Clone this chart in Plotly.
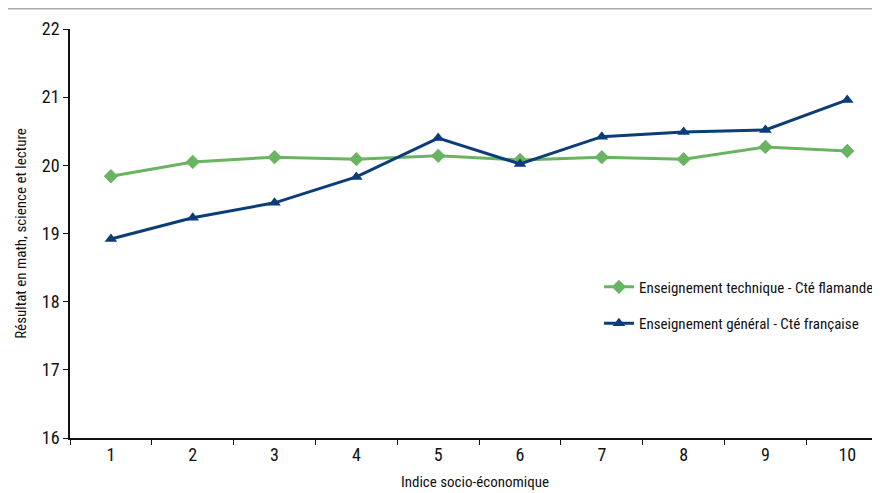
import plotly.graph_objects as go

categories = ["1", "2", "3", "4", "5", "6", "7", "8", "9", "10"]
technique_flamande = [19.84, 20.05, 20.12, 20.09, 20.14, 20.08, 20.12, 20.09, 20.27, 20.21]
general_francaise = [18.92, 19.23, 19.45, 19.83, 20.40, 20.02, 20.42, 20.49, 20.52, 20.96]
y_ticks = [16, 17, 18, 19, 20, 21, 22]

FONT = "Liberation Sans Narrow, Roboto Condensed, Arial Narrow, sans-serif"
GREEN = "#68b460"
BLUE = "#0b3d78"

fig = go.Figure()
fig.add_trace(go.Scatter(
    x=categories, y=technique_flamande, mode="lines+markers",
    name="Enseignement technique - Cté flamande", legendgroup="a",
    line=dict(color=GREEN, width=3),
    marker=dict(symbol="diamond", size=11, color=GREEN),
))
fig.add_trace(go.Scatter(
    x=categories, y=general_francaise, mode="lines+markers",
    name="Enseignement général - Cté française", legendgroup="b",
    line=dict(color=BLUE, width=3),
    marker=dict(symbol="triangle-up", size=11, color=BLUE),
))

fig.update_layout(
    width=872, height=485,
    margin=dict(l=62, r=0, t=21, b=55, autoexpand=False),
    paper_bgcolor="white", plot_bgcolor="white",
    font=dict(family=FONT, size=18, color="#111"),
    showlegend=True,
    legend=dict(x=0.653, y=0.325, xanchor="left", yanchor="middle",
                bgcolor="rgba(0,0,0,0)", font=dict(size=15, color="#111"),
                traceorder="grouped", tracegroupgap=14),
    xaxis=dict(
        type="category", range=[-0.5, 9.4],
        showline=True, linecolor="#111", linewidth=1.5,
        ticks="outside", tickson="boundaries", ticklen=5, tickcolor="#111",
        showgrid=False, zeroline=False,
        title=dict(text="Indice socio-économique", font=dict(size=15), standoff=12),
    ),
    yaxis=dict(
        range=[16, 22], tickvals=y_ticks,
        showline=True, linecolor="#111", linewidth=1.5,
        ticks="outside", ticklen=5, tickcolor="#111",
        showgrid=False, zeroline=False,
        title=dict(text="Résultat en math, science et lecture", font=dict(size=15), standoff=12),
    ),
    shapes=[dict(type="line", xref="paper", yref="paper", x0=-0.1, x1=1.0,
                 y0=1 + 20.5 / 409, y1=1 + 20.5 / 409,
                 line=dict(color="#aaaaaa", width=2))],
)

fig.write_html("out.html")
